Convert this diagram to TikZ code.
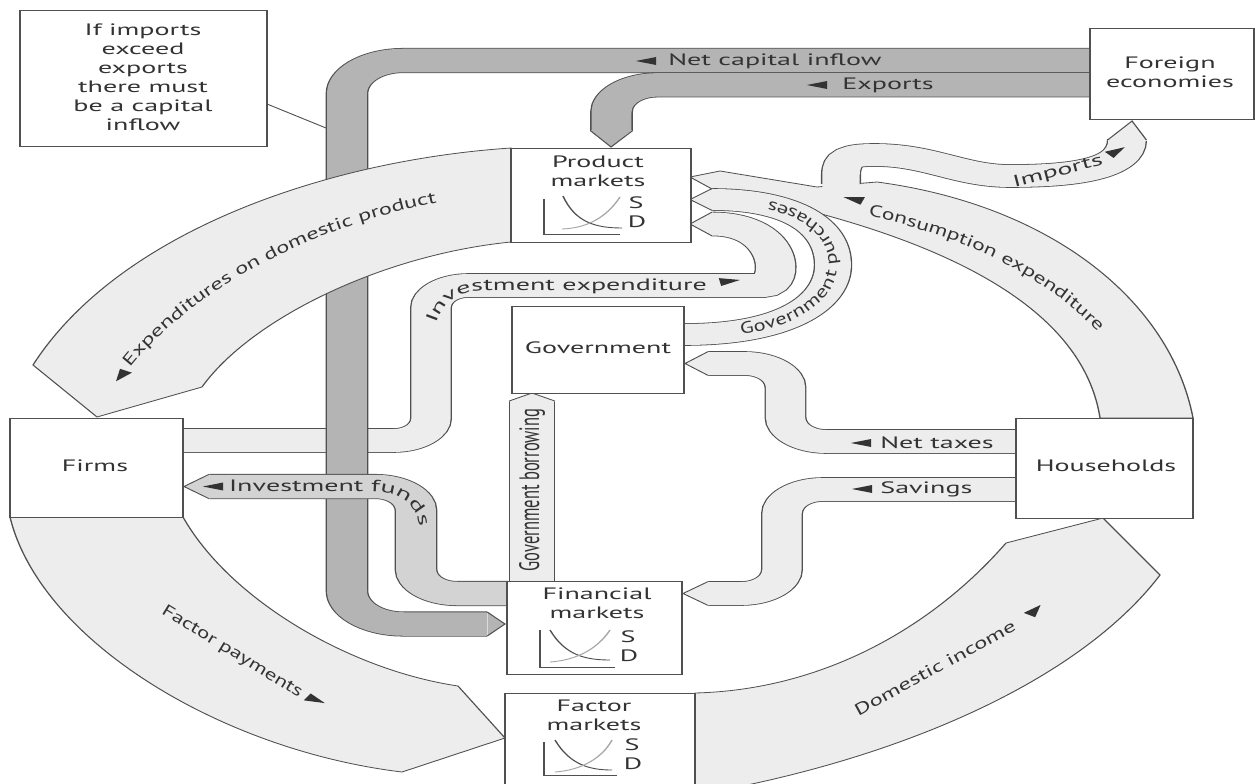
\documentclass[tikz,border=0pt]{standalone}
\usepackage{fontspec}
\setmainfont{PT Sans}
\newfontfamily\fDI[FakeStretch=1.49]{PT Sans}
\newfontfamily\fFP[FakeStretch=1.39]{PT Sans}
\newfontfamily\fIM[FakeStretch=1.69]{PT Sans}
\newfontfamily\fEX[FakeStretch=1.47]{PT Sans}
\newfontfamily\fCE[FakeStretch=1.43]{PT Sans}
\newfontfamily\fGP[FakeStretch=1.36]{PT Sans}
\newfontfamily\fHZ[FakeStretch=1.7]{PT Sans}
\usetikzlibrary{decorations.text,fit}
\definecolor{bord}{HTML}{505050}
\definecolor{txt}{HTML}{333333}
\definecolor{lightf}{HTML}{EDEDED}
\definecolor{medf}{HTML}{D3D3D3}
\definecolor{darkf}{HTML}{B4B4B4}
\newcommand{\lblfont}{\fontsize{16.5}{19}\selectfont}
\tikzset{
  box/.style={draw=bord, fill=white, line width=0.8pt, inner sep=0pt},
  lbl/.style={text=txt, font=\lblfont, inner sep=0pt},
  bandL/.style={draw=bord, line width=0.8pt, double=lightf, double distance=#1},
  bandM/.style={draw=bord, line width=0.8pt, double=medf, double distance=#1},
  bandD/.style={draw=bord, line width=0.8pt, double=darkf, double distance=#1},
  shapeL/.style={fill=lightf, draw=bord, line width=0.8pt, line join=round},
  tipedge/.style={draw=bord, line width=0.8pt},
  mk/.pic={\fill[txt] (6pt,0pt) -- (-6pt,4pt) -- (-6pt,-4pt) -- cycle;},
  mkaxis/.style={draw=bord, line width=0.8pt},
  dcurve/.style={draw=bord, line width=0.9pt},
  scurve/.style={draw=black!35, line width=0.9pt},
}
\begin{document}
\begin{tikzpicture}[x=1pt,y=-1pt]
\fill[white] (0,0) rectangle (1255,784);
\useasboundingbox (0,0) rectangle (1255,784);
\begin{scope}[transform canvas={xscale=1.7}, x=0.5882353pt, y=-1pt]

% investment expenditure
\draw[bandL=23pt, rounded corners=22pt] (183,440.5) -- (431,440.5) -- (431,285.5) -- (725,285.5) .. controls (785,285.5) and (785,224) .. (712,224);
\fill[lightf] (712.8,212.1) -- (690,224) -- (712.8,235.9) -- cycle;
\draw[tipedge] (712,212.1) -- (690,224) -- (712,235.9);

% consumption expenditure
\filldraw[shapeL] (720,171) -- (690,177) -- (712,189) .. controls (900,225) and (1080,290) .. (1100,418) -- (1193,418) .. controls (1170,300) and (1050,205) .. (877,182) -- (817,187) -- cycle;

% imports
\draw[bord, line width=23.6pt] (841,184) -- (841,175) .. controls (841,157) and (852,155) .. (875,155) .. controls (930,155) and (960,176) .. (1010,176) .. controls (1070,176) and (1127,170) .. (1127,140);
\draw[lightf, line width=22pt] (841,197) -- (841,175) .. controls (841,157) and (852,155) .. (875,155) .. controls (930,155) and (960,176) .. (1010,176) .. controls (1070,176) and (1127,170) .. (1127,140);
\fill[lightf] (1107.6,140.8) -- (1132,121) -- (1146.4,140.8) -- cycle;
\draw[tipedge] (1107.6,140) -- (1132,121) -- (1146.4,140);

% government purchases
\draw[bandL=21pt] (684,334.5) .. controls (790,334.5) and (833,300) .. (833,265) .. controls (833,225) and (790,199.5) .. (712,199.5);
\fill[lightf] (712.8,188.6) -- (690,199.5) -- (712.8,210.4) -- cycle;
\draw[tipedge] (712,188.6) -- (690,199.5) -- (712,210.4);

% net capital inflow
\draw[bandD=23.5pt, rounded corners=33pt] (1090,60.5) -- (347,60.5) -- (347,624) -- (487,624);
\fill[darkf] (487.8,611.9) -- (505,624) -- (487.8,636.1) -- cycle;
\draw[tipedge] (487,611.9) -- (505,624) -- (487,636.1);

% exports
\draw[bandD=23.5pt, rounded corners=27pt] (1090,84.9) -- (611.5,84.9) -- (611.5,131);
\fill[darkf] (590.85,130.2) -- (611,147) -- (632.15,130.2) -- cycle;
\draw[tipedge] (590.85,131) -- (611,147) -- (632.15,131);

% expenditures on domestic product
\filldraw[shapeL] (511,148) .. controls (330,160) and (120,230) .. (33,365) -- (97,417) -- (202,387) .. controls (250,320) and (380,255) .. (511,242) -- cycle;

% investment funds
\draw[bandM=23.5pt, rounded corners=24pt] (209,486.5) -- (416,486.5) -- (416,593.5) -- (508,593.5);
\fill[medf] (209.8,474.35) -- (184,486.5) -- (209.8,498.65) -- cycle;
\draw[tipedge] (209,474.35) -- (184,486.5) -- (209,498.65);

% government borrowing
\draw[bandL=26pt] (532,581) -- (532,401);
\fill[lightf] (509.2,401.8) -- (532,393) -- (554.8,401.8) -- cycle;
\draw[tipedge] (509.2,401) -- (532,393) -- (554.8,401);

% net taxes
\draw[bandL=23pt, rounded corners=24pt] (1016,441.5) -- (785.5,441.5) -- (785.5,363.5) -- (708,363.5);
\fill[lightf] (708.8,351.6) -- (685,363.5) -- (708.8,375.4) -- cycle;
\draw[tipedge] (708,351.6) -- (685,363.5) -- (708,375.4);

% savings
\draw[bandL=23pt, rounded corners=24pt] (1016,489.5) -- (782,489.5) -- (782,593.5) -- (708,593.5);
\fill[lightf] (708.8,581.6) -- (683,593.5) -- (708.8,605.4) -- cycle;
\draw[tipedge] (708,581.6) -- (683,593.5) -- (708,605.4);

% factor payments
\filldraw[shapeL] (10,517) .. controls (40,640) and (220,750) .. (402,772) -- (505,738) -- (458,686) .. controls (350,670) and (230,600) .. (183,517) -- cycle;

% domestic income
\filldraw[shapeL] (695,693) .. controls (820,690) and (930,630) .. (1006,543) -- (1103,518) -- (1160,575) .. controls (1080,680) and (900,760) .. (695,795) -- cycle;

% boxes
\node[box, fit={(20,10) (267,146)}] (note) {};
\node[box, fit={(1090,28) (1254,119)}] (foreign) {};
\node[box, fit={(511,148) (691,242)}] (product) {};
\node[box, fit={(512,306) (684,393)}] (gov) {};
\node[box, fit={(10,418) (183,517)}] (firms) {};
\node[box, fit={(1016,418) (1193,518)}] (house) {};
\node[box, fit={(507,581) (682,674)}] (fin) {};
\node[box, fit={(505,693) (695,790)}] (factor) {};
\coordinate (leadend) at (326,128);
\draw[tipedge] (267,104) -- (leadend);

% box texts
\node[lbl, align=center] (notetxt) at (143,77) {If imports\\exceed\\exports\\there must\\be a capital\\inflow};
\node[lbl, align=center] (foreigntxt) at (1170,72.5) {Foreign\\economies};
\node[lbl, align=center] (producttxt) at (598,171) {Product\\markets};
\node[lbl] (govtxt) at (598,348) {Government};
\node[lbl] (firmstxt) at (95,466) {Firms};
\node[lbl] (housetxt) at (1106,466) {Households};
\node[lbl, align=center] (fintxt) at (597,603) {Financial\\markets};
\node[lbl, align=center] (factortxt) at (594,715.5) {Factor\\markets};

% charts
\draw[mkaxis] (544,199) -- (544,234) -- (620,234);
\draw[dcurve] (563,196) .. controls (575,222) and (595,228) .. (622,228);
\draw[scurve] (562,229) .. controls (590,228) and (608,215) .. (620,197);
\node[lbl] (ps) at (636,203) {S};
\node[lbl] (pd) at (637,222) {D};
\draw[mkaxis] (540,630) -- (540,667) -- (615,667);
\draw[dcurve] (550,630) .. controls (565,655) and (585,660) .. (610,660);
\draw[scurve] (550,662) .. controls (578,660) and (598,648) .. (610,630);
\node[lbl] (fs) at (628,637) {S};
\node[lbl] (fd) at (629,656) {D};
\draw[mkaxis] (544,742) -- (544,775) -- (617,775);
\draw[dcurve] (555,740) .. controls (570,765) and (590,770) .. (612,770);
\draw[scurve] (555,772) .. controls (582,770) and (602,758) .. (612,740);
\node[lbl] (xs) at (632,745) {S};
\node[lbl] (xd) at (633,764) {D};

% horizontal band labels and arrow marks
\pic[rotate=180] at (646,61) {mk};
\node[lbl, anchor=west] (lnc) at (668,61) {Net capital inflow};
\pic[rotate=180] at (817,85) {mk};
\node[lbl, anchor=west] (lex) at (842,85) {Exports};
\pic[rotate=180] at (861,443) {mk};
\node[lbl, anchor=west] (lnt) at (880,443) {Net taxes};
\pic[rotate=180] at (862,489) {mk};
\node[lbl, anchor=west] (lsv) at (880,489) {Savings};
\pic[rotate=180] at (213,486.5) {mk};
\pic[rotate=241] at (121,376) {mk};
\pic[rotate=161] at (853,199) {mk};
\pic[rotate=40] at (1117,151) {mk};
\pic[rotate=57] at (1035,610) {mk};
\pic[rotate=-31] at (316,700) {mk};
\pic[rotate=10] at (730,281) {mk};
\node[lbl, rotate=90] (lgb) at (532,490) {Government borrowing};
\end{scope}

% rotated and curved labels (drawn in picture pixels)
\node[text=txt, inner sep=0pt, font=\fIM\lblfont, rotate=14.5] (lim) at (1058,172) {Imports};
\node[text=txt, inner sep=0pt, font=\fDI\lblfont, rotate=28.7] (ldi) at (935,668) {Domestic income};
\node[text=txt, inner sep=0pt, font=\fFP\lblfont, rotate=-31.5] (lfp) at (232,652) {Factor payments};
\path[decorate, decoration={text along path, text color=txt, text={|\fHZ\lblfont|Investment funds}}] (229,491.5) -- (370,491.5) .. controls (395,491.5) and (412,500) .. (418,520) -- (425,548);
\path[decorate, decoration={text along path, text color=txt, text={|\fEX\lblfont|Expenditures on domestic product}}] (130,368) .. controls (180,305) and (290,228) .. (452,200);
\path[decorate, decoration={text along path, text color=txt, text={|\fCE\lblfont|Consumption expenditure}}] (868,216) .. controls (960,236) and (1058,276) .. (1120,358);
\path[decorate, decoration={text along path, text color=txt, text={|\fHZ\lblfont|Investment expenditure}}] (436,324) .. controls (443,302) and (456,290.5) .. (487,290.5) -- (760,290.5);
\path[decorate, decoration={text along path, text color=txt, text={|\fGP\lblfont|Government purchases}, text align=center, raise=-4pt}] (684,334.5) .. controls (790,334.5) and (833,300) .. (833,265) .. controls (833,225) and (790,199.5) .. (712,199.5);
\end{tikzpicture}
\end{document}
